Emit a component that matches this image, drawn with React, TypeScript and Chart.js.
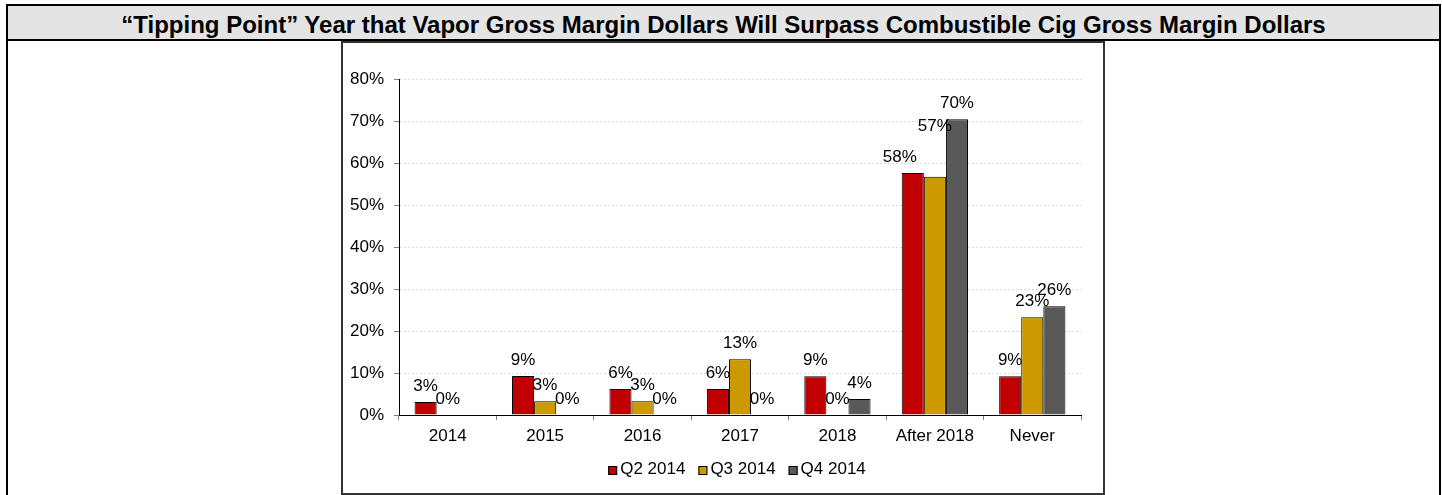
import React, { useEffect, useRef } from "react";
import { Chart, registerables } from "chart.js";

Chart.register(...registerables);

const FONT = "'Liberation Sans', Arial, sans-serif";

const TITLE =
  "\u201CTipping Point\u201D Year that Vapor Gross Margin Dollars Will Surpass Combustible Cig Gross Margin Dollars";

const categories = ["2014", "2015", "2016", "2017", "2018", "After 2018", "Never"];

const seriesNames = ["Q2 2014", "Q3 2014", "Q4 2014"];

const q2Values = [3.1, 9.3, 6.2, 6.2, 9.2, 57.6, 9.2];
const q3Values = [0, 3.3, 3.3, 13.3, 0, 56.7, 23.3];
const q4Values = [null, 0, 0, 0, 3.8, 70.4, 25.9];

const q2Labels = ["3%", "9%", "6%", "6%", "9%", "58%", "9%"];
const q3Labels = ["0%", "3%", "3%", "13%", "0%", "57%", "23%"];
const q4Labels = [null, "0%", "0%", "0%", "4%", "70%", "26%"];

const yTickValues = [0, 10, 20, 30, 40, 50, 60, 70, 80];

const seriesColors = ["#C00000", "#CC9900", "#595959"];

// label nudges (dx, dy) for a few data labels moved by hand in the original
const labelNudges: Record<string, [number, number]> = {
  "0-5": [-13, 0],
  "1-5": [0, -35],
};

const seriesLabels = [q2Labels, q3Labels, q4Labels];

const barLabelPlugin = {
  id: "barLabels",
  afterDatasetsDraw(chart: any) {
    const ctx = chart.ctx;
    ctx.save();
    ctx.font = `17px ${FONT}`;
    ctx.fillStyle = "#000";
    ctx.textAlign = "center";
    ctx.textBaseline = "alphabetic";
    chart.data.datasets.forEach((_ds: any, di: number) => {
      const meta = chart.getDatasetMeta(di);
      meta.data.forEach((el: any, i: number) => {
        const txt = seriesLabels[di][i];
        if (!txt) return;
        const n = labelNudges[`${di}-${i}`] || [0, 0];
        ctx.fillText(txt, el.x + n[0], el.y - 11 + n[1]);
      });
    });
    ctx.restore();
  },
};

const legendPlugin = {
  id: "customLegend",
  afterDraw(chart: any) {
    const ctx = chart.ctx;
    const area = chart.chartArea;
    ctx.save();
    ctx.font = `17px ${FONT}`;
    const box = 9;
    const gapText = 3;
    const gapItem = 13;
    const items = chart.data.datasets.map((ds: any) => ({
      label: ds.label,
      color: ds.backgroundColor,
      w: ctx.measureText(ds.label).width,
    }));
    const total =
      items.reduce((s: number, it: any) => s + box + gapText + it.w, 0) +
      gapItem * (items.length - 1);
    let x = (area.left + area.right) / 2 - 3 - total / 2;
    const boxTop = area.bottom + 51;
    const baseline = area.bottom + 59;
    ctx.textAlign = "left";
    ctx.textBaseline = "alphabetic";
    items.forEach((it: any) => {
      ctx.fillStyle = it.color;
      ctx.fillRect(x, boxTop, box, box);
      ctx.strokeStyle = "#000";
      ctx.lineWidth = 1;
      ctx.strokeRect(x + 0.5, boxTop + 0.5, box - 1, box - 1);
      ctx.fillStyle = "#000";
      ctx.fillText(it.label, x + box + gapText, baseline);
      x += box + gapText + it.w + gapItem;
    });
    ctx.restore();
  },
};

function ChartCanvas() {
  const ref = useRef<HTMLCanvasElement | null>(null);
  useEffect(() => {
    if (!ref.current) return;
    const values = [q2Values, q3Values, q4Values];
    const chart = new Chart(ref.current, {
      type: "bar",
      data: {
        labels: categories,
        datasets: seriesNames.map((name, i) => ({
          label: name,
          data: values[i] as any,
          backgroundColor: seriesColors[i],
          borderColor: "#000",
          borderWidth: 1,
          borderSkipped: "bottom",
          barPercentage: 1,
          categoryPercentage: 0.68,
        })),
      },
      options: {
        responsive: false,
        animation: false,
        events: [],
        layout: { padding: { top: 36, right: 22, bottom: 43, left: 0 } },
        plugins: {
          legend: { display: false },
          tooltip: { enabled: false },
          title: { display: false },
        },
        scales: {
          x: {
            grid: {
              display: true,
              drawOnChartArea: false,
              drawTicks: true,
              tickLength: 5,
              color: "#808080",
              tickColor: "#808080",
              offset: true,
            },
            border: { display: true, color: "#000", width: 1 },
            ticks: {
              color: "#000",
              font: { size: 17, family: FONT },
              padding: 6,
              maxRotation: 0,
              autoSkip: false,
            },
            afterFit(scale: any) {
              scale.height = 35;
            },
          },
          y: {
            min: 0,
            max: 80,
            afterBuildTicks(scale: any) {
              scale.ticks = yTickValues.map((v) => ({ value: v }));
            },
            ticks: {
              color: "#000",
              font: { size: 17, family: FONT },
              padding: 10,
              callback: (v: any) => `${v}%`,
            },
            grid: {
              color: "#d9d9d9",
              tickColor: "#808080",
              tickLength: 5,
              drawTicks: true,
              tickBorderDash: [],
            },
            border: { display: true, color: "#000", width: 1, dash: [2, 2] },
            afterFit(scale: any) {
              scale.width = 56;
            },
          },
        },
      },
      plugins: [barLabelPlugin, legendPlugin],
    });
    return () => chart.destroy();
  }, []);
  return <canvas ref={ref} width={760} height={450} style={{ display: "block", width: 760, height: 450 }} />;
}

export default function App() {
  return (
    <div
      style={{
        position: "absolute",
        left: 6,
        top: 4,
        width: 1435,
        height: 530,
        border: "2px solid #000",
        boxSizing: "border-box",
        background: "#fff",
      }}
    >
      <div
        style={{
          height: 35,
          background: "#e4e4e4",
          borderBottom: "2px solid #000",
          boxSizing: "border-box",
          font: `bold 24px ${FONT}`,
          color: "#000",
          textAlign: "center",
          lineHeight: "38px",
          whiteSpace: "nowrap",
        }}
      >
        {TITLE}
      </div>
      <div
        style={{
          position: "absolute",
          left: 333,
          top: 35,
          width: 764,
          height: 454,
          border: "2px solid #333",
          boxSizing: "border-box",
          background: "#fff",
        }}
      >
        <ChartCanvas />
      </div>
    </div>
  );
}
